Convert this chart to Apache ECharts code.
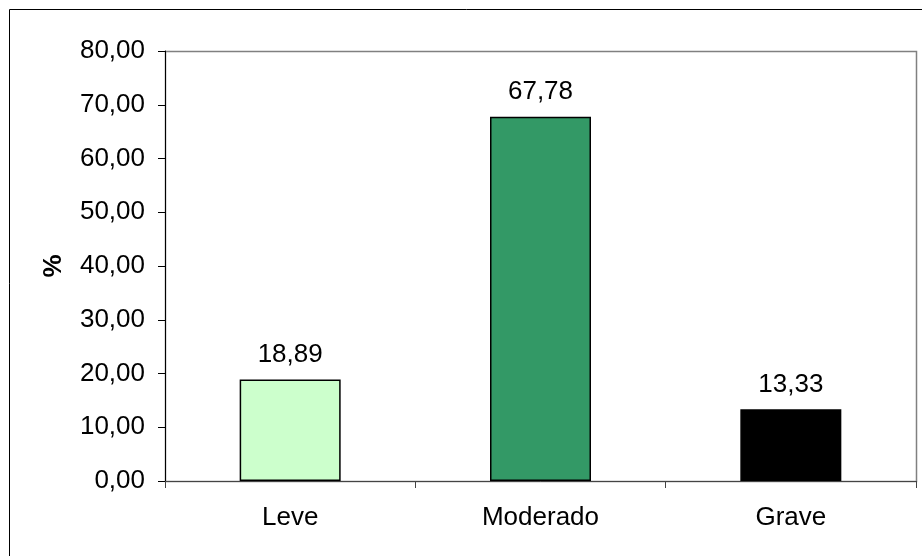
<!DOCTYPE html>
<html><head><meta charset="utf-8">
<script src="https://cdn.jsdelivr.net/npm/echarts@6/dist/echarts.min.js"></script>
<style>html,body{margin:0;padding:0;background:#fff}#c{width:922px;height:556px}</style>
</head><body><div id="c"></div>
<script>
const categories = ['Leve', 'Moderado', 'Grave'];
const values = [18.89, 67.78, 13.33];
const barColors = ['#CCFFCC', '#339966', '#000000'];
const yAxisName = '%';

const fmt = v => v.toFixed(2).replace('.', ',');
const chart = echarts.init(document.getElementById('c'));
const font = 'Liberation Sans, Arial, sans-serif';
chart.setOption({
  animation: false,
  grid: {left: 165, top: 51, width: 751, height: 430, containLabel: false},
  graphic: [
    {type: 'rect', shape: {x: 9.5, y: 9.5, width: 930, height: 580}, style: {fill: 'none', stroke: '#000', lineWidth: 1}, z: -1},
    {type: 'rect', shape: {x: 165.5, y: 51.5, width: 751, height: 430}, style: {fill: 'none', stroke: '#808080', lineWidth: 1.5}, z: -1}
  ],
  xAxis: {
    type: 'category', data: categories,
    axisLine: {lineStyle: {color: '#444', width: 1}},
    axisTick: {show: true, length: 7, lineStyle: {color: '#444'}},
    axisLabel: {color: '#000', fontFamily: font, fontSize: 26, margin: 24}
  },
  yAxis: {
    type: 'value', min: 0, max: 80, interval: 10,
    name: yAxisName, nameLocation: 'middle', nameGap: 98, nameRotate: 90,
    nameTextStyle: {color: '#000', fontFamily: font, fontSize: 26, fontWeight: 'bold'},
    axisLine: {show: true, lineStyle: {color: '#000', width: 1}},
    axisTick: {show: true, length: 7, lineStyle: {color: '#000'}},
    axisLabel: {color: '#000', fontFamily: font, fontSize: 26, margin: 20, formatter: v => fmt(v)},
    splitLine: {show: false}
  },
  series: [{
    type: 'bar', barWidth: 101,
    data: values.map((v, i) => ({value: v, itemStyle: {color: barColors[i]}})),
    itemStyle: {borderColor: '#000', borderWidth: 1.5},
    label: {show: true, position: 'top', distance: 12, color: '#000', fontFamily: font, fontSize: 26, formatter: p => fmt(p.value)}
  }]
});
</script></body></html>
